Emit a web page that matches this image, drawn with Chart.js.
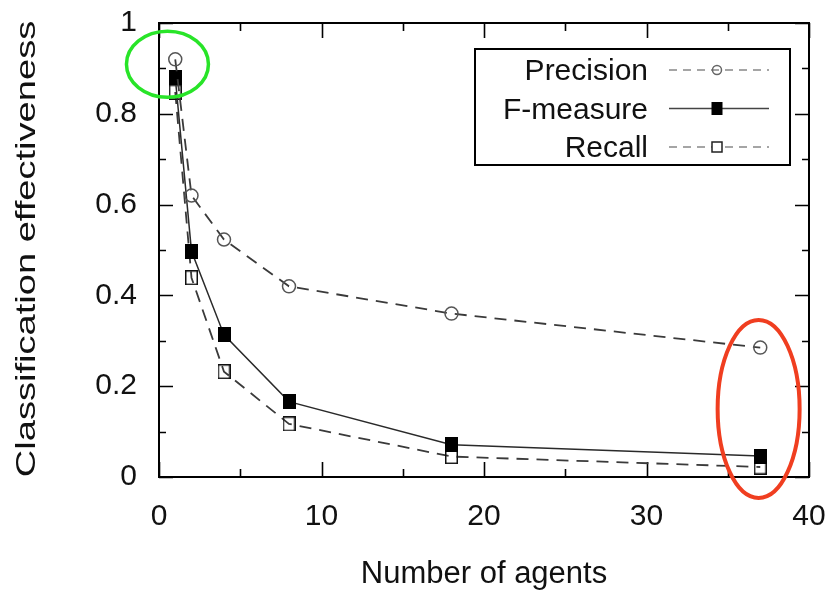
<!DOCTYPE html>
<html><head><meta charset="utf-8">
<script src="https://cdn.jsdelivr.net/npm/chart.js@4.4.0/dist/chart.umd.min.js"></script>
<style>html,body{margin:0;padding:0;background:#fff;}canvas{display:block;}</style>
</head><body>
<canvas id="c" width="832" height="596"></canvas>
<script>
// ---- data ----
const agents = [1, 2, 4, 8, 18, 37];
const precision = [0.92, 0.62, 0.523, 0.42, 0.36, 0.285];
const fMeasure = [0.88, 0.497, 0.313, 0.166, 0.071, 0.046];
const recall = [0.848, 0.439, 0.232, 0.117, 0.045, 0.022];
const seriesNames = ['Precision', 'F-measure', 'Recall'];
const xTickLabels = ['0', '10', '20', '30', '40'];
const yTickLabels = ['0', '0.2', '0.4', '0.6', '0.8', '1'];
const xTitle = 'Number of agents';
const yTitle = 'Classification effectiveness';
// highlight ellipses (centres in data units)
const highlightX = [0.52, 36.9];
const highlightY = [0.909, 0.15];

const FONT = "'Liberation Sans', Arial, sans-serif";

function makeRect(w, h, filled) {
  const c = document.createElement('canvas');
  c.width = w; c.height = h;
  const g = c.getContext('2d');
  if (filled) { g.fillStyle = '#000'; g.fillRect(0, 0, w, h); }
  else { g.strokeStyle = '#111'; g.lineWidth = 1.5; g.strokeRect(0.75, 0.75, w - 1.5, h - 1.5); }
  return c;
}
const filledRect = makeRect(13, 15, true);
const openRect = makeRect(13, 15, false);

function pts(ys) { return agents.map((x, i) => ({ x: x, y: ys[i] })); }

const framePlugin = {
  id: 'frame',
  beforeDatasetsDraw(chart) {
    const { ctx, chartArea: a, scales } = chart;
    const xs = scales.x, ys = scales.y;
    ctx.save();
    ctx.strokeStyle = '#000';
    ctx.lineWidth = 1.6;
    for (let v = 0; v <= 40; v += 5) {
      const px = Math.round(xs.getPixelForValue(v)) + 0.5;
      const len = v % 10 === 0 ? 15 : 8;
      ctx.beginPath();
      ctx.moveTo(px, a.bottom); ctx.lineTo(px, a.bottom - len);
      ctx.moveTo(px, a.top); ctx.lineTo(px, a.top + len);
      ctx.stroke();
    }
    for (let i = 0; i <= 10; i++) {
      const py = Math.round(ys.getPixelForValue(i / 10)) + 0.5;
      const len = i % 2 === 0 ? 14 : 7;
      ctx.beginPath();
      ctx.moveTo(a.left, py); ctx.lineTo(a.left + len, py);
      ctx.moveTo(a.right, py); ctx.lineTo(a.right - len, py);
      ctx.stroke();
    }
    ctx.lineWidth = 2;
    ctx.strokeRect(a.left, a.top, a.right - a.left, a.bottom - a.top);
    ctx.restore();
  },
  afterDraw(chart) {
    const { ctx, chartArea: a, scales } = chart;
    ctx.save();
    // axis titles
    ctx.fillStyle = '#111';
    ctx.font = '31px ' + FONT;
    ctx.textAlign = 'center';
    ctx.textBaseline = 'alphabetic';
    ctx.fillText(xTitle, (a.left + a.right) / 2, 583);
    ctx.save();
    ctx.translate(35, (a.top + a.bottom) / 2 - 1);
    ctx.rotate(-Math.PI / 2);
    ctx.scale(1.36, 1);
    ctx.font = '28px ' + FONT;
    ctx.fillText(yTitle, 0, 0);
    ctx.restore();

    // legend
    const bx = a.right - 334, by = a.top + 26, bw = 315, bh = 116;
    ctx.lineWidth = 2;
    ctx.strokeStyle = '#000';
    ctx.strokeRect(bx, by, bw, bh);
    ctx.font = '30px ' + FONT;
    ctx.textAlign = 'right';
    const dsets = chart.data.datasets;
    for (let i = 0; i < dsets.length; i++) {
      const d = dsets[i];
      const base = by + 31 + i * 38.5;
      ctx.fillStyle = '#111';
      ctx.fillText(seriesNames[i], bx + 173, base);
      const ly = base - 10;
      ctx.save();
      ctx.strokeStyle = i === 1 ? '#444' : '#888';
      ctx.lineWidth = 1.5;
      ctx.setLineDash(d.borderDash && d.borderDash.length ? [8, 6] : []);
      ctx.beginPath();
      ctx.moveTo(bx + 194, ly); ctx.lineTo(bx + 294, ly);
      ctx.stroke();
      ctx.setLineDash([]);
      const mx = bx + 242;
      if (d.pointStyle === 'circle') {
        ctx.strokeStyle = '#666';
        ctx.beginPath(); ctx.arc(mx, ly, 4.5, 0, Math.PI * 2); ctx.stroke();
      } else if (d.pointStyle === filledRect) {
        ctx.fillStyle = '#000'; ctx.fillRect(mx - 5.5, ly - 6.5, 11, 13);
      } else {
        ctx.fillStyle = '#fff'; ctx.fillRect(mx - 5, ly - 5, 10, 10);
        ctx.strokeStyle = '#222'; ctx.strokeRect(mx - 5, ly - 5, 10, 10);
      }
      ctx.restore();
    }

    // highlight ellipses
    const ell = [
      { rx: 41, ry: 33, color: 'rgb(40,228,40)', w: 3.5 },
      { rx: 41, ry: 89, color: 'rgb(240,62,32)', w: 4 }
    ];
    for (let i = 0; i < ell.length; i++) {
      const cx = scales.x.getPixelForValue(highlightX[i]);
      const cy = scales.y.getPixelForValue(highlightY[i]);
      ctx.strokeStyle = ell[i].color;
      ctx.lineWidth = ell[i].w;
      ctx.beginPath();
      ctx.ellipse(cx, cy, ell[i].rx, ell[i].ry, 0, 0, Math.PI * 2);
      ctx.stroke();
    }
    ctx.restore();
  }
};

new Chart(document.getElementById('c'), {
  type: 'line',
  data: {
    datasets: [
      {
        label: seriesNames[0], data: pts(precision),
        borderColor: '#3a3a3a', borderWidth: 1.8, borderDash: [12, 8],
        pointStyle: 'circle', pointRadius: 6.5, pointBorderWidth: 1.5,
        pointBorderColor: '#555', pointBackgroundColor: 'rgba(0,0,0,0)', tension: 0
      },
      {
        label: seriesNames[1], data: pts(fMeasure),
        borderColor: '#2a2a2a', borderWidth: 1.5, borderDash: [],
        pointStyle: filledRect, pointRadius: 7, tension: 0
      },
      {
        label: seriesNames[2], data: pts(recall),
        borderColor: '#3a3a3a', borderWidth: 1.8, borderDash: [12, 8],
        pointStyle: openRect, pointRadius: 7, tension: 0
      }
    ]
  },
  options: {
    responsive: false,
    animation: false,
    events: [],
    layout: { padding: { top: 23, right: 23, left: 0, bottom: 0 } },
    plugins: { legend: { display: false }, tooltip: { enabled: false } },
    scales: {
      x: {
        type: 'linear', min: 0, max: 40,
        grid: { display: false, drawTicks: true, tickLength: 22 },
        border: { display: false },
        ticks: {
          stepSize: 10, padding: 0, maxRotation: 0, autoSkip: false, color: '#111',
          font: { family: FONT, size: 30 },
          callback: (v, i) => xTickLabels[i]
        },
        afterFit: s => { s.height = 119; }
      },
      y: {
        type: 'linear', min: 0, max: 1,
        grid: { display: false, drawTicks: true, tickLength: 22 },
        border: { display: false },
        ticks: {
          stepSize: 0.2, padding: 0, color: '#111',
          font: { family: FONT, size: 30 },
          callback: (v, i) => yTickLabels[i]
        },
        afterFit: s => { s.width = 159; }
      }
    }
  },
  plugins: [framePlugin]
});
</script>
</body></html>
